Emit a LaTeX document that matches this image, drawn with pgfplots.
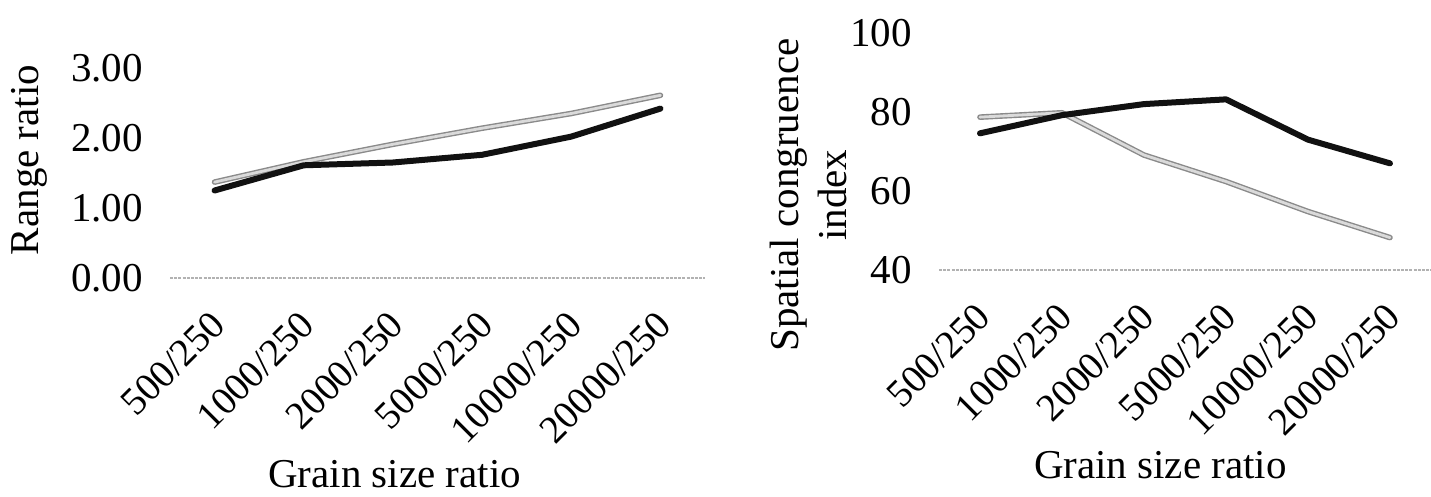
\documentclass[border=0pt]{standalone}
\usepackage{fontspec}
\setmainfont{Liberation Serif}
\usepackage{pgfplots}
\pgfplotsset{compat=1.18}
\definecolor{darkline}{HTML}{111111}
\definecolor{grayedge}{HTML}{8A8A8A}
\definecolor{grayfill}{HTML}{DADADA}
\begin{document}
\begin{tikzpicture}
\useasboundingbox (0pt,0pt) rectangle (715.5pt,248.5pt);
\pgfplotsset{
 common/.style={
  scale only axis,
  xmin=-0.5, xmax=5.5,
  xtick={0,1,2,3,4,5},
  xticklabels={500/250,1000/250,2000/250,5000/250,10000/250,20000/250},
  axis x line*=bottom, axis y line*=left,
  y axis line style={draw=none},
  x axis line style={draw=gray!60, line width=0.8pt, dash pattern=on 1.5pt off 0.6pt},
  major tick length=0pt,
  tick style={draw=none},
  tick label style={font=\fontsize{20.5}{24}\selectfont},
  label style={font=\fontsize{20.5}{24}\selectfont},
  xticklabel style={xshift=2pt, yshift=-20pt, rotate=45, anchor=east, inner sep=0pt, font=\fontsize{19.5}{22}\selectfont},
  yticklabel style={anchor=east, xshift=-10pt},
  /pgf/number format/assume math mode=true,
  clip=false,
 },
 grayline/.style={draw=grayedge, double=grayfill, line width=0.7pt, double distance=1.4pt, line join=round, line cap=round},
 blackline/.style={draw=darkline, line width=3pt, line join=round, line cap=round},
}
\begin{axis}[common,
  at={(85pt,109.5pt)}, anchor=south west,
  width=267.5pt, height=105pt,
  ymin=0, ymax=3, ytick={0,1,2,3},
  yticklabel style={/pgf/number format/.cd, fixed, fixed zerofill, precision=2},
  ylabel={Range ratio},
  ylabel style={at={(axis description cs:-0.262,0.562)}, anchor=center},
  xlabel={Grain size ratio},
  xlabel style={at={(axis description cs:0.42,-0.935)}, anchor=center, inner sep=1pt},
]
\addplot[grayline] coordinates {(0,1.37) (1,1.66) (2,1.91) (3,2.14) (4,2.35) (5,2.61)};
\addplot[blackline] coordinates {(0,1.25) (1,1.61) (2,1.65) (3,1.76) (4,2.02) (5,2.42)};
\end{axis}
\begin{axis}[common,
  at={(469.5pt,113.5pt)}, anchor=south west,
  width=246pt, height=118.5pt,
  ymin=40, ymax=100, ytick={40,60,80,100},
  ylabel={Spatial congruence\\index},
  ylabel style={at={(axis description cs:-0.266,0.316)}, anchor=center, align=center},
  xlabel={Grain size ratio},
  xlabel style={at={(axis description cs:0.45,-0.823)}, anchor=center},
]
\addplot[grayline] coordinates {(0,78.7) (1,79.8) (2,69.1) (3,62.4) (4,54.8) (5,48.2)};
\addplot[blackline] coordinates {(0,74.6) (1,79.2) (2,82.0) (3,83.2) (4,73.0) (5,67.0)};
\end{axis}
\end{tikzpicture}
\end{document}
